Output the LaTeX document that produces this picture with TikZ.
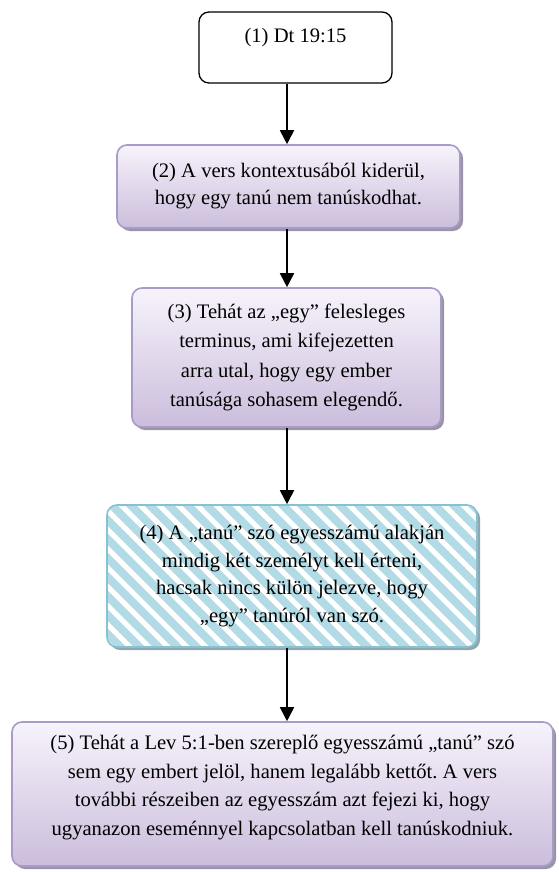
\documentclass[tikz,border=0pt]{standalone}
\usepackage{fontspec}
\setmainfont{Liberation Serif}
\usetikzlibrary{arrows.meta,shadows,calc}
\frenchspacing

\definecolor{lilacTop}{HTML}{F7F3FB}
\definecolor{lilacBot}{HTML}{CBBDDC}
\definecolor{lilacLine}{HTML}{A99BC9}
\definecolor{shadowGray}{HTML}{9B94A5}
\definecolor{aquaFill}{HTML}{B2DBE6}
\definecolor{aquaLine}{HTML}{86C2D2}
\definecolor{aquaShadow}{HTML}{8FA7AE}

\tikzset{
  basebox/.style={rounded corners=10pt, inner sep=0pt, align=center},
  plainbox/.style={basebox, draw=black, line width=1.3pt, fill=white},
  lilacbox/.style={basebox, draw=lilacLine, line width=1.6pt,
    top color=lilacTop, bottom color=lilacBot,
    drop shadow={shadow xshift=3pt, shadow yshift=-3pt, fill=shadowGray, opacity=1}},
  aquabox/.style={basebox, draw=aquaLine, line width=1.6pt, fill=aquaFill,
    drop shadow={shadow xshift=3pt, shadow yshift=-3pt, fill=aquaShadow, opacity=1},
    path picture={
      \foreach \k in {-12,...,27}
        \draw[white, line width=5pt]
          ($(path picture bounding box.north west)+(\k*19-10,-5)$) -- ++(200,200);
    }},
  flowarrow/.style={line width=1.8pt, -{Triangle[width=14pt,length=14pt]}},
  txt/.style={align=center}
}

\begin{document}
\begin{tikzpicture}[x=1pt, y=-1pt]
  \useasboundingbox (0,0) rectangle (558,872);

  % vertical line along which the arrows run
  \coordinate (axis) at (287,0);

  % step 1
  \node[plainbox, minimum width=193pt, minimum height=71pt] (b1) at (295.5,47.5) {};
  \node[txt, font=\fontsize{20.6}{28}\selectfont] (t1) at (295.5,38) {(1) Dt 19:15};

  % step 2
  \node[lilacbox, minimum width=343pt, minimum height=83pt] (b2) at (288.5,186.5) {};
  \node[txt, font=\fontsize{20.6}{27}\selectfont] (t2) at (b2.center)
    {(2) A vers kontextusából kiderül,\\hogy egy tanú nem tanúskodhat.};

  % step 3
  \node[lilacbox, minimum width=309pt, minimum height=139pt] (b3) at (286.5,357.5) {};
  \node[txt, font=\fontsize{20.6}{29.3}\selectfont] (t3) at (b3.center)
    {(3) Tehát az „egy” felesleges\\terminus, ami kifejezetten\\arra utal, hogy egy ember\\tanúsága sohasem elegendő.};

  % step 4
  \node[aquabox, minimum width=370pt, minimum height=142pt] (b4) at (292,576) {};
  \node[txt, font=\fontsize{20.6}{27.7}\selectfont] (t4) at (b4.center)
    {(4) A „tanú” szó egyesszámú alakján\\mindig két személyt kell érteni,\\hacsak nincs külön jelezve, hogy\\„egy” tanúról van szó.};

  % step 5
  \node[lilacbox, minimum width=541pt, minimum height=144pt] (b5) at (282.5,794) {};
  \node[txt, font=\fontsize{20.6}{28.5}\selectfont] (t5) at (282.5,787.5)
    {(5) Tehát a Lev 5:1-ben szereplő egyesszámú „tanú” szó\\sem egy embert jelöl, hanem legalább kettőt. A vers\\további részeiben az egyesszám azt fejezi ki, hogy\\ugyanazon eseménnyel kapcsolatban kell tanúskodniuk.};

  % connectors
  \draw[flowarrow] (b1.south -| axis) -- (b2.north -| axis);
  \draw[flowarrow] (b2.south -| axis) -- (b3.north -| axis);
  \draw[flowarrow] (b3.south -| axis) -- (b4.north -| axis);
  \draw[flowarrow] (b4.south -| axis) -- (b5.north -| axis);
\end{tikzpicture}
\end{document}
